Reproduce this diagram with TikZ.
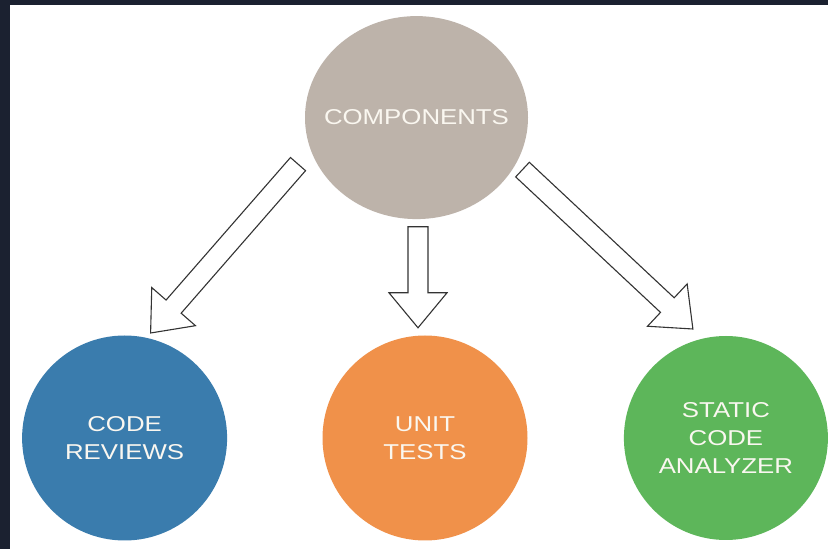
\documentclass[tikz,border=0pt]{standalone}
\usepackage{fontspec}
\usepackage{tikz}
\usetikzlibrary{shapes,positioning,calc}

\newfontfamily\lblfont[FakeStretch=1.2]{Liberation Sans}

\definecolor{bgdark}{HTML}{1B2130}
\definecolor{compcol}{HTML}{BDB3AA}
\definecolor{revcol}{HTML}{3A7CAD}
\definecolor{unitcol}{HTML}{F0914A}
\definecolor{staticcol}{HTML}{5DB65A}
\definecolor{lbltext}{HTML}{FAF7F0}

% outlined block arrow from #1 to #2
\newcommand{\blockarrow}[2]{%
  \coordinate (neck) at ($(#2)!35pt!(#1)$);
  \draw [arrowline] ($(#1)!10pt!90:(#2)$) -- ($(neck)!10pt!90:(#2)$)
    -- ($(neck)!29pt!90:(#2)$) -- (#2) -- ($(neck)!29pt!-90:(#2)$)
    -- ($(neck)!10pt!-90:(#2)$) -- ($(#1)!10pt!-90:(#2)$) -- cycle;
}

\begin{document}
\begin{tikzpicture}[x=1pt, y=1pt, node distance=95pt,
    every node/.style={font=\lblfont\fontsize{21.5}{28}\selectfont, text=lbltext, align=center},
    bubble/.style={circle, inner sep=0pt, minimum size=205pt},
    arrowline/.style={draw=black!80, fill=white, line width=1.1pt, line join=miter}]
    \fill [bgdark] (0,0) rectangle (828,549);
    \fill [white] (10,0) rectangle (828,544);
    \useasboundingbox (0,0) rectangle (828,549);

    \node [bubble, fill=unitcol] (unit) at (425,111) {UNIT\\TESTS};
    \node [bubble, fill=revcol, left=of unit] (reviews) {CODE\\REVIEWS};
    \node [bubble, fill=staticcol, minimum size=204pt, right=96pt of unit] (static) {STATIC\\CODE\\ANALYZER};
    \node [ellipse, inner xsep=-14pt, inner ysep=0pt, fill=compcol, minimum width=223pt, minimum height=203pt,
           above=116pt of unit, xshift=-8.5pt] (comp) {COMPONENTS};

    \coordinate (tailrev) at ($(comp.center)+(-118.5,-46.5)$);
    \coordinate (tailunit) at ($(comp.south)+(1.5,-7.5)$);
    \coordinate (tailstatic) at ($(comp.center)+(106,-52)$);
    \coordinate (tiprev) at ($(reviews.center)+(26,105)$);
    \coordinate (tipunit) at ($(unit.north)+(-7,7.5)$);
    \coordinate (tipstatic) at ($(static.center)+(-33,109)$);

    \blockarrow{tailrev}{tiprev}
    \blockarrow{tailunit}{tipunit}
    \blockarrow{tailstatic}{tipstatic}
\end{tikzpicture}
\end{document}
